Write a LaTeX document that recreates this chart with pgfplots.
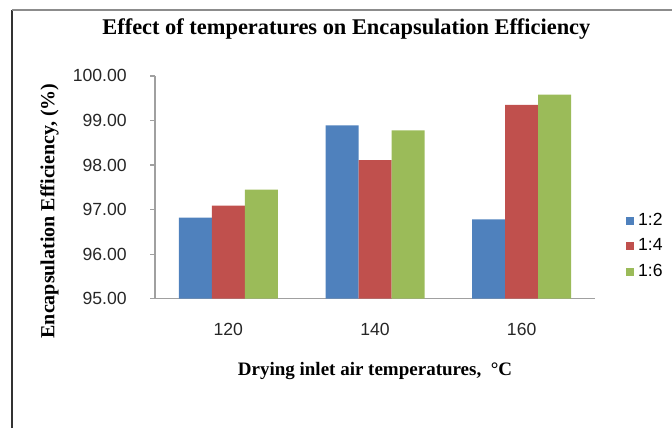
\documentclass[border=0pt]{standalone}
\usepackage{fontspec}
\setmainfont{Liberation Serif}
\setsansfont{Liberation Sans}
\usepackage{pgfplots}
\pgfplotsset{compat=1.18}

\definecolor{exblue}{HTML}{4F81BD}
\definecolor{exred}{HTML}{C0504D}
\definecolor{exgreen}{HTML}{9BBB59}
\definecolor{axgray}{HTML}{A0A0A0}

\begin{document}
\begin{tikzpicture}
  % frame of the page the chart sits on
  \useasboundingbox (-77.5pt,-64.65pt) rectangle (258.5pt,149.35pt);
  \draw[black!80, line width=1pt] (-71.5pt,-64.65pt) -- (-71.5pt,144.35pt);
  \draw[black!45, line width=1.2pt] (-71.5pt,144.35pt) -- (258.5pt,144.35pt);

  \begin{axis}[
      at={(0,0)}, anchor=south west,
      scale only axis,
      width=220pt, height=111.4pt,
      ybar=0pt, bar width=16.5pt,
      xmin=-0.5, xmax=2.5,
      ymin=95, ymax=100,
      xtick={0,1,2},
      xticklabels={120,140,160},
      ytick={95,96,97,98,99,100},
      axis x line=bottom, axis y line=left,
      axis line style={axgray, line width=0.6pt, -},
      x axis line style={-}, y axis line style={-},
      tick align=outside,
      x tick style={draw=none},
      y tick style={axgray, line width=0.6pt},
      major tick length=2.5pt,
      /pgf/number format/.cd, fixed, fixed zerofill, precision=2, assume math mode=true,
      /pgfplots/.cd,
      tick label style={font=\sffamily\fontsize{8.8}{10.5}\selectfont, text=black!85},
      yticklabel style={anchor=east, inner sep=0pt, xshift=-11.5pt},
      xticklabel style={anchor=center, inner sep=0pt, yshift=-12.8pt},
      title={Effect of temperatures on Encapsulation Efficiency},
      title style={font=\bfseries\fontsize{11.2}{13}\selectfont, at={(axis description cs:0.435,1.131)}, anchor=base, inner sep=0pt},
      xlabel={Drying inlet air temperatures,\ \ \textdegree C},
      xlabel style={font=\bfseries\fontsize{9.5}{11}\selectfont, at={(axis description cs:0.5,-0.3456)}, anchor=base, inner sep=0pt},
      ylabel={Encapsulation Efficiency, (\%)},
      ylabel style={font=\bfseries\fontsize{10}{12}\selectfont, at={(axis description cs:-0.24,0.394)}, anchor=center, inner sep=0pt},
      legend style={draw=none, at={(1.07,0.235)}, anchor=west, inner sep=0pt,
        font=\sffamily\fontsize{8.8}{10.5}\selectfont, row sep=1pt,
        /tikz/every even column/.append style={column sep=0pt}},
      legend cell align=left,
      legend image code/.code={\fill[#1] (0pt,-2pt) rectangle (4pt,2pt);},
    ]
    \addplot[fill=exblue, draw=none] coordinates {(0,96.82) (1,98.89) (2,96.78)};
    \addplot[fill=exred, draw=none] coordinates {(0,97.09) (1,98.11) (2,99.35)};
    \addplot[fill=exgreen, draw=none] coordinates {(0,97.45) (1,98.78) (2,99.58)};
    \legend{1:2,1:4,1:6}
  \end{axis}
\end{tikzpicture}
\end{document}
